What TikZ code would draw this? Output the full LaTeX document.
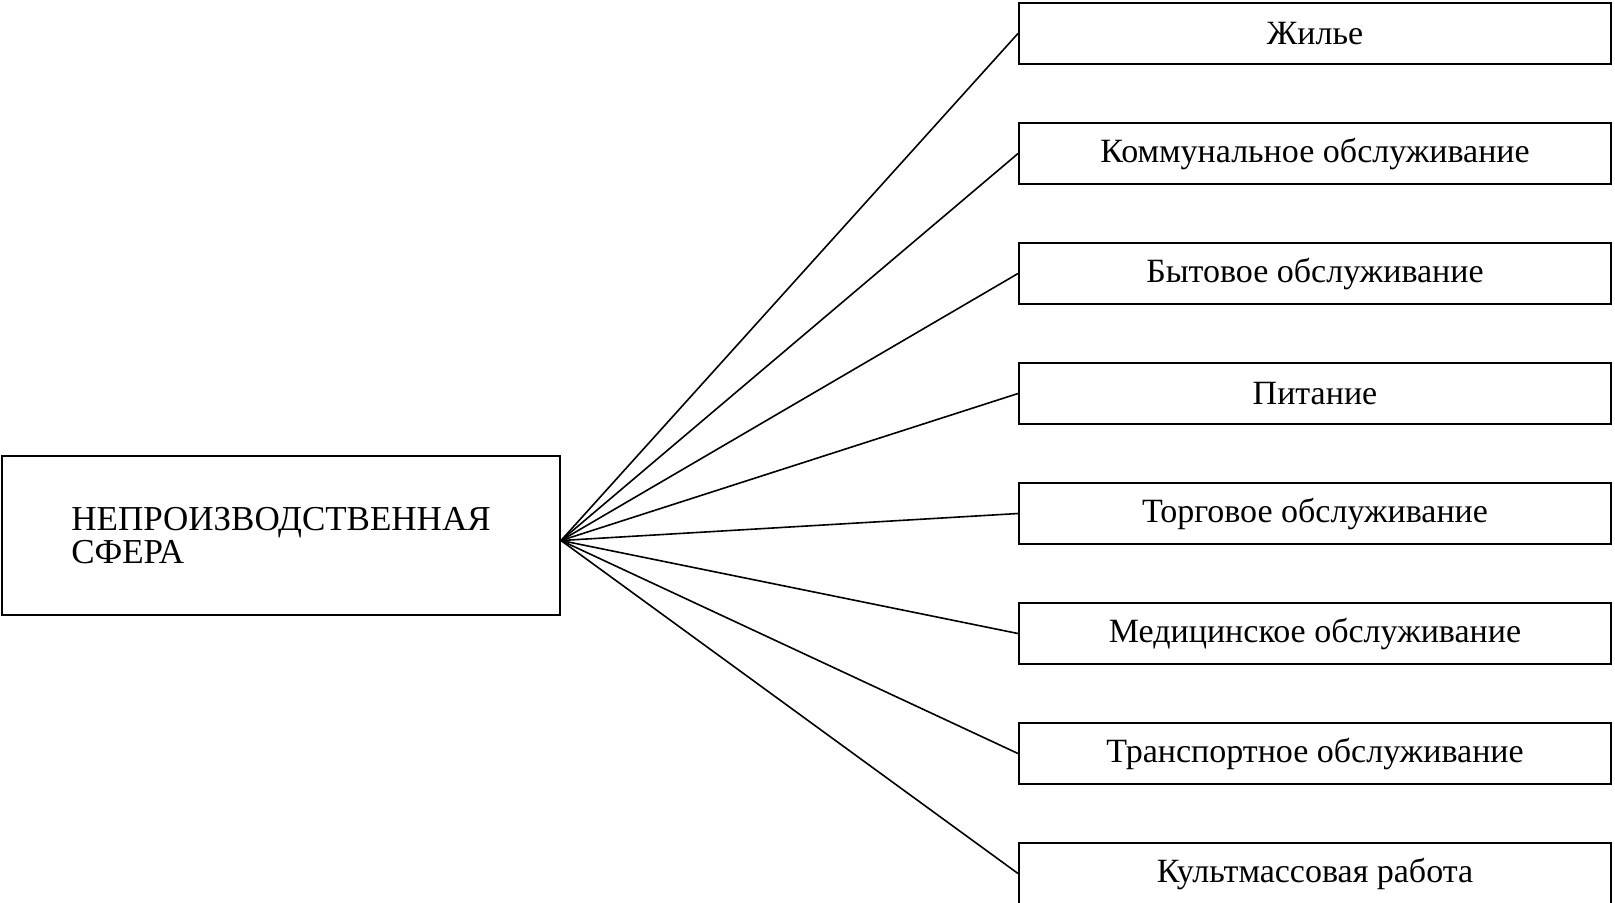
\documentclass[tikz,border=0pt]{standalone}
\usepackage{fontspec}
\setmainfont{Liberation Serif}
\usepackage{tikz}

\begin{document}
\begin{tikzpicture}[x=0.5pt,y=-0.5pt,node distance=60pt,font=\fontsize{17}{20}\selectfont,
  branch/.style={rectangle,draw,line width=1pt,minimum width=296pt,minimum height=30.5pt}]
\useasboundingbox (0,0) rectangle (1615,902);
\node [rectangle,draw,line width=1pt,minimum width=279pt,minimum height=79.5pt,align=left,font=\fontsize{17.5}{16.5}\selectfont] at (281,535.5) (sfera) {НЕПРОИЗВОДСТВЕННАЯ\\СФЕРА};
\coordinate (hub) at ([yshift=-2.5pt]sfera.east);
\node [branch] at (1315,33.5) (zhile) {Жилье};
\node [branch,below of=zhile] (kommun) {Коммунальное обслуживание};
\node [branch,below of=kommun] (byt) {Бытовое обслуживание};
\node [branch,below of=byt] (pitanie) {Питание};
\node [branch,below of=pitanie] (torg) {Торговое обслуживание};
\node [branch,below of=torg] (med) {Медицинское обслуживание};
\node [branch,below of=med] (transp) {Транспортное обслуживание};
\node [branch,below of=transp] (kult) {Культмассовая работа};
\draw [line width=0.8pt] (hub) -- (zhile.west);
\draw [line width=0.8pt] (hub) -- (kommun.west);
\draw [line width=0.8pt] (hub) -- (byt.west);
\draw [line width=0.8pt] (hub) -- (pitanie.west);
\draw [line width=0.8pt] (hub) -- (torg.west);
\draw [line width=0.8pt] (hub) -- (med.west);
\draw [line width=0.8pt] (hub) -- (transp.west);
\draw [line width=0.8pt] (hub) -- (kult.west);
\end{tikzpicture}
\end{document}
